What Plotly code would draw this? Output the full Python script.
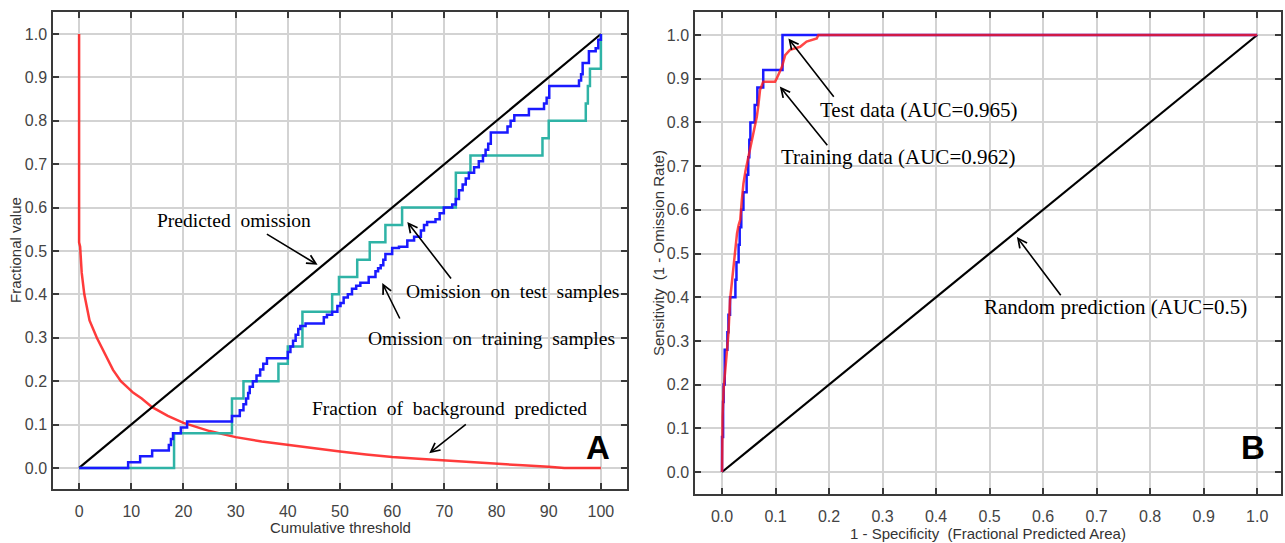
import plotly.graph_objects as go

# ---------------- Panel A data ----------------
thr_pred = [0, 100]
pred_omission = [0, 1]

bg_x = [0, 0, 0.2, 0.5, 1, 2, 3.4, 5, 6.5, 8, 10.4, 12, 14, 17, 20, 25, 30, 35, 40, 45,
        50, 55, 60, 65, 70, 75, 80, 85, 90, 93, 100]
bg_y = [1.0, 0.52, 0.51, 0.45, 0.40, 0.34, 0.30, 0.26, 0.226, 0.20, 0.173, 0.16, 0.14, 0.12,
        0.104, 0.085, 0.071, 0.061, 0.053, 0.045, 0.038, 0.031, 0.025, 0.021, 0.017, 0.013,
        0.009, 0.006, 0.003, 0.0, 0.0]

test_x = [0, 18.2, 29.3, 31.5, 38.2, 40, 42.8, 48.5, 49.8, 53.3, 55.7, 58.7, 61.9, 72.2,
          75, 88.8, 90, 97.1, 97.5, 97.9, 100]
test_y = [0, 0.08, 0.16, 0.20, 0.24, 0.28, 0.36, 0.40, 0.44, 0.48, 0.52, 0.56, 0.60, 0.68,
          0.72, 0.76, 0.80, 0.84, 0.88, 0.92, 1.0]

train_x = [0, 9.4, 11.7, 14, 17.2, 17.6, 18, 19.5, 20.7, 29.3, 30.8, 31.5, 32, 32.4, 32.7,
           33.3, 34, 34.7, 35.3, 36, 40, 40.5, 41, 41.5, 42, 42.4, 43.4, 46.9, 47.5, 48.5,
           49.5, 50.1, 50.7, 51.5, 52.3, 53.1, 53.9, 55.5, 56.8, 57.3, 57.8, 58.3, 58.7,
           60, 61.3, 62.9, 64.2, 65.5, 66.1, 66.7, 68.3, 69.1, 69.9, 71.5, 72.2, 72.8, 73.5,
           74.1, 74.7, 75.7, 76.6, 77.4, 77.9, 78.4, 78.9, 82.1, 82.7, 83.4, 86.2, 89.1,
           89.6, 90.1, 95.8, 96.2, 96.5, 97.7, 99, 99.5, 100]
train_y = [0, 0.013, 0.027, 0.040, 0.053, 0.067, 0.080, 0.093, 0.107, 0.120, 0.133, 0.147,
           0.160, 0.173, 0.187, 0.200, 0.213, 0.227, 0.240, 0.253, 0.267, 0.280, 0.293,
           0.307, 0.320, 0.327, 0.333, 0.347, 0.353, 0.360, 0.373, 0.380, 0.393, 0.400,
           0.413, 0.420, 0.427, 0.440, 0.453, 0.460, 0.467, 0.480, 0.493, 0.507, 0.510,
           0.524, 0.533, 0.547, 0.560, 0.567, 0.573, 0.587, 0.600, 0.607, 0.620, 0.640,
           0.653, 0.667, 0.680, 0.693, 0.707, 0.720, 0.733, 0.747, 0.773, 0.787, 0.800,
           0.813, 0.827, 0.840, 0.853, 0.880, 0.893, 0.907, 0.933, 0.960, 0.967, 0.987, 1.0]

# ---------------- Panel B data ----------------
rand_x = [0, 1]
rand_y = [0, 1]

roc_test_x = [0, 0.0, 0.002, 0.003, 0.005, 0.010, 0.012, 0.015, 0.025, 0.027, 0.031, 0.033,
              0.036, 0.040, 0.046, 0.049, 0.051, 0.053, 0.061, 0.066, 0.077, 0.113, 1.0]
roc_test_y = [0, 0.08, 0.16, 0.20, 0.28, 0.32, 0.36, 0.40, 0.44, 0.48, 0.52, 0.56, 0.60,
              0.64, 0.68, 0.72, 0.76, 0.80, 0.84, 0.88, 0.92, 1.0, 1.0]

roc_train_x = [0, 0.001, 0.003, 0.006, 0.009, 0.012, 0.015, 0.018, 0.021, 0.025, 0.028,
               0.031, 0.034, 0.037, 0.040, 0.044, 0.049, 0.054, 0.0585, 0.062, 0.065, 0.068,
               0.071, 0.077, 0.099, 0.102, 0.107, 0.112, 0.118, 0.127, 0.146, 0.158, 0.177,
               0.18, 1.0]
roc_train_y = [0, 0.127, 0.19, 0.24, 0.28, 0.317, 0.394, 0.43, 0.47, 0.51, 0.546, 0.565,
               0.577, 0.622, 0.66, 0.69, 0.72, 0.75, 0.775, 0.80, 0.813, 0.84, 0.874, 0.893,
               0.893, 0.90, 0.913, 0.927, 0.954, 0.966, 0.973, 0.985, 0.992, 1.0, 1.0]

x_ticks_a = list(range(0, 101, 10))
y_ticks = [round(i * 0.1, 1) for i in range(11)]
x_ticks_b = [round(i * 0.1, 1) for i in range(11)]

RED = "#ff1a1a"
BLUE = "#1a1aff"
TEAL = "#2fb3a6"

fig = go.Figure()
fig.add_trace(go.Scatter(x=bg_x, y=bg_y, mode="lines", line=dict(color=RED, width=2.5),
                         opacity=0.85, xaxis="x", yaxis="y"))
fig.add_trace(go.Scatter(x=thr_pred, y=pred_omission, mode="lines",
                         line=dict(color="black", width=2.2), xaxis="x", yaxis="y"))
fig.add_trace(go.Scatter(x=test_x, y=test_y, mode="lines", line=dict(color=TEAL, width=2.5, shape="hv"),
                         xaxis="x", yaxis="y"))
fig.add_trace(go.Scatter(x=train_x, y=train_y, mode="lines", line=dict(color=BLUE, width=2.5, shape="hv"),
                         xaxis="x", yaxis="y"))

fig.add_trace(go.Scatter(x=rand_x, y=rand_y, mode="lines", line=dict(color="black", width=2.2),
                         xaxis="x2", yaxis="y2"))
fig.add_trace(go.Scatter(x=roc_test_x, y=roc_test_y, mode="lines", line=dict(color=BLUE, width=2.5, shape="hv"),
                         xaxis="x2", yaxis="y2"))
fig.add_trace(go.Scatter(x=roc_train_x, y=roc_train_y, mode="lines", line=dict(color=RED, width=2.5),
                         opacity=0.8, xaxis="x2", yaxis="y2"))

W, H = 1285, 543
axis_common = dict(showline=True, linecolor="#3a3a3a", linewidth=1.5, mirror="ticks",
                   ticks="inside", ticklen=6, tickwidth=1.5, tickcolor="#3a3a3a",
                   showgrid=True, gridcolor="#d3d3d3", gridwidth=1.5, zeroline=False,
                   tickfont=dict(family="Liberation Sans, Arial", size=16, color="#444"))

fig.update_layout(
    width=W, height=H, margin=dict(l=0, r=0, t=0, b=0),
    paper_bgcolor="white", plot_bgcolor="white", showlegend=False,
    xaxis=dict(domain=[53 / W, 627 / W], range=[-5, 105], tickvals=x_ticks_a,
               anchor="y", ticklabelstandoff=7, **axis_common),
    yaxis=dict(domain=[1 - 489 / H, 1 - 12 / H], range=[-0.0485, 1.0507], tickvals=y_ticks,
               tickformat=".1f", anchor="x", ticklabelstandoff=1, **axis_common),
    xaxis2=dict(domain=[695 / W, 1281 / W], range=[-0.0505, 1.0445], tickvals=x_ticks_b,
                tickformat=".1f", anchor="y2", ticklabelstandoff=7, **axis_common),
    yaxis2=dict(domain=[1 - 494 / H, 1 - 12 / H], range=[-0.0503, 1.0526], tickvals=y_ticks,
                tickformat=".1f", anchor="x2", ticklabelstandoff=1, **axis_common),
)

serif_a = dict(family="Liberation Serif, Times New Roman", size=19.5, color="black")
serif_b = dict(family="Liberation Serif, Times New Roman", size=21, color="black")
ann = []


def label(text, x, y, xr, yr, font):
    ann.append(dict(text=text, x=x, y=y, xref=xr, yref=yr, showarrow=False, font=font,
                    xanchor="center", yanchor="middle"))


def arrow(hx, hy, tx, ty, xr, yr):
    ann.append(dict(text="", x=hx, y=hy, ax=tx, ay=ty, xref=xr, yref=yr, axref=xr, ayref=yr,
                    showarrow=True, arrowhead=5, arrowsize=1.1, arrowwidth=1.6, arrowcolor="black"))


label("Predicted  omission", 29.7, 0.571, "x", "y", serif_a)
arrow(45.7, 0.468, 35.7, 0.541, "x", "y")
label("Omission  on  test  samples", 83.0, 0.406, "x", "y", serif_a)
arrow(62.9, 0.567, 71.5, 0.433, "x", "y")
label("Omission  on  training  samples", 79.0, 0.299, "x", "y", serif_a)
arrow(58.1, 0.426, 61.6, 0.341, "x", "y")
label("Fraction  of  background  predicted", 70.9, 0.1375, "x", "y", serif_a)
arrow(67.1, 0.034, 74.4, 0.103, "x", "y")

label("Test data (AUC=0.965)", 0.368, 0.828, "x2", "y2", serif_b)
arrow(0.124, 0.992, 0.211, 0.855, "x2", "y2")
label("Training data (AUC=0.962)", 0.328, 0.7215, "x2", "y2", serif_b)
arrow(0.108, 0.882, 0.199, 0.744, "x2", "y2")
label("Random prediction (AUC=0.5)", 0.736, 0.378, "x2", "y2", serif_b)
arrow(0.551, 0.538, 0.635, 0.401, "x2", "y2")

big = dict(family="Liberation Sans, Arial", size=33, color="black")
ann.append(dict(text="<b>A</b>", x=99.4, y=0.046, xref="x", yref="y", showarrow=False, font=big,
                xanchor="center", yanchor="middle"))
ann.append(dict(text="<b>B</b>", x=0.993, y=0.055, xref="x2", yref="y2", showarrow=False, font=big,
                xanchor="center", yanchor="middle"))

sans = dict(family="Liberation Sans, Arial", size=15, color="#333")


def title(text, px, py, angle=0):
    ann.append(dict(text=text, x=px / W, y=1 - py / H, xref="paper", yref="paper",
                    showarrow=False, font=sans, textangle=angle,
                    xanchor="center", yanchor="middle"))


title("Cumulative threshold", 340, 527)
title("Fractional value", 16, 250, -90)
title("1 - Specificity  (Fractional Predicted Area)", 988, 533)
title("Sensitivity  (1 - Omission Rate)", 658, 253, -90)

fig.update_layout(annotations=ann)
fig.write_html("out.html", config={"displayModeBar": False},
               post_script="document.body.style.margin='0';")
